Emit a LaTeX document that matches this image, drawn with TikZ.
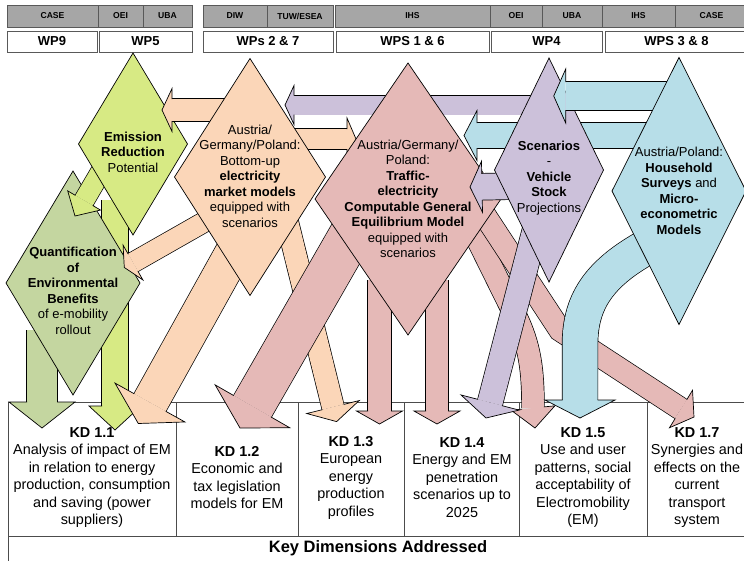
\documentclass[tikz,border=0pt]{standalone}
\usepackage{fontspec}
\setmainfont{Liberation Sans}
\usetikzlibrary{shapes.geometric,calc}

\definecolor{hdrgray}{RGB}{166,166,166}
\definecolor{emgreen}{RGB}{215,234,132}
\definecolor{qgreen}{RGB}{196,214,160}
\definecolor{peach}{RGB}{251,214,184}
\definecolor{rose}{RGB}{229,185,183}
\definecolor{lilac}{RGB}{204,193,218}
\definecolor{skyb}{RGB}{183,222,232}

% head of a block arrow: colour, base, tip, half shaft, half head
\newcommand{\headtip}[5]{%
  \fill[#1] ($(#2)!#5!90:(#3)$) -- (#3) -- ($(#2)!#5!-90:(#3)$) -- cycle;
  \draw[edge] ($(#2)!#4!90:(#3)$) -- ($(#2)!#5!90:(#3)$) -- (#3)
    -- ($(#2)!#5!-90:(#3)$) -- ($(#2)!#4!-90:(#3)$);}
% straight block arrow: colour, start, tip, half shaft, half head, head length
\newcommand{\flowarrow}[6]{%
  \coordinate (hb) at ($(#3)!#6!(#2)$);
  \draw[shaft, double=#1, double distance=2*#4] (#2) -- (hb);
  \headtip{#1}{hb}{#3}{#4}{#5}}

\begin{document}
\begin{tikzpicture}[x=1pt, y=-1pt, line join=miter,
    hdr/.style={draw=black!65, fill=hdrgray, inner sep=0pt, minimum height=22pt,
      font=\bfseries\fontsize{8.6}{10}\selectfont},
    wp/.style={draw=black!65, fill=white, inner sep=0pt, minimum height=21pt,
      font=\bfseries\fontsize{13}{15}\selectfont},
    kdbox/.style={draw=black!70, line width=1pt, fill=white, inner sep=0pt,
      minimum height=134pt},
    kdtxt/.style={align=center, inner sep=0pt, font=\fontsize{14.4}{17.5}\selectfont},
    dia/.style={diamond, draw, line width=0.7pt, inner sep=0pt, outer sep=0pt},
    dtxt/.style={align=center, inner sep=0pt, font=\fontsize{13}{15.5}\selectfont},
    shaft/.style={line width=0.7pt, line cap=butt},
    edge/.style={line width=0.7pt}]
  \useasboundingbox (0,0) rectangle (744,560);

  % partners and work packages
  \node[hdr, minimum width=91pt] (h1) at (52.5,16) {CASE};
  \node[hdr, minimum width=45pt] (h2) at (120.5,16) {OEI};
  \node[hdr, minimum width=49pt] (h3) at (167.5,16) {UBA};
  \node[hdr, minimum width=64pt] (h4) at (235,16) {DIW};
  \node[hdr, minimum width=66pt] (h5) at (300,16) {TUW/ESEA};
  \node[hdr, minimum width=155pt] (h6) at (412.5,16) {IHS};
  \node[hdr, minimum width=52pt] (h7) at (516,16) {OEI};
  \node[hdr, minimum width=60pt] (h8) at (572,16) {UBA};
  \node[hdr, minimum width=73pt] (h9) at (638.5,16) {IHS};
  \node[hdr, minimum width=73pt] (h10) at (711.5,16) {CASE};
  \node[wp, minimum width=90pt] (w1) at (52,41.5) {WP9};
  \node[wp, minimum width=93pt] (w2) at (145.5,41.5) {WP5};
  \node[wp, minimum width=130pt] (w3) at (268,41.5) {WPs 2 \& 7};
  \node[wp, minimum width=153pt] (w4) at (412.5,41.5) {WPS 1 \& 6};
  \node[wp, minimum width=111pt] (w5) at (546.5,41.5) {WP4};
  \node[wp, minimum width=143pt] (w6) at (676.5,41.5) {WPS 3 \& 8};

  % key dimensions
  \node[kdbox, minimum width=168pt] (kd1) at (92,469) {};
  \node[kdbox, minimum width=122pt] (kd2) at (237,469) {};
  \node[kdbox, minimum width=106pt] (kd3) at (351,469) {};
  \node[kdbox, minimum width=115pt] (kd4) at (461.5,469) {};
  \node[kdbox, minimum width=128pt] (kd5) at (583,469) {};
  \node[kdbox, minimum width=101pt] (kd7) at (697.5,469) {};
  \node[kdbox, minimum width=740pt, minimum height=28pt] (key) at (378,550) {};
  \node[font=\bfseries\fontsize{16.5}{18}\selectfont] (keyt) at (378,548) {Key Dimensions Addressed};

  % long arrows down to the key dimensions
  \coordinate (l1s) at (468,220);
  \coordinate (l1b) at (533,408);
  \coordinate (l1t) at (535,428);
  \draw[shaft, double=rose, double distance=22pt] (l1s) -- (515,315)
    .. controls (530,345) and (533,370) .. (l1b);
  \headtip{rose}{l1b}{l1t}{11pt}{22pt}
  \coordinate (l2s) at (478,205);
  \coordinate (l2b) at (681,409);
  \coordinate (l2t) at (694,417);
  \draw[shaft, double=rose, double distance=22pt] (l2s) -- (560,330) -- (l2b);
  \headtip{rose}{l2b}{l2t}{11pt}{22pt}
  \coordinate (is) at (285,213);
  \coordinate (it) at (336.6,421.6);
  \flowarrow{peach}{is}{it}{11pt}{27pt}{15pt}
  \coordinate (js) at (352,233);
  \coordinate (jt) at (240,428);
  \flowarrow{rose}{js}{jt}{21.5pt}{43pt}{25pt}
  \coordinate (v1s) at (379.5,280);
  \coordinate (v1t) at (379.5,424);
  \flowarrow{rose}{v1s}{v1t}{11.5pt}{23pt}{13pt}
  \coordinate (v2s) at (437,280);
  \coordinate (v2t) at (437,424);
  \flowarrow{rose}{v2s}{v2t}{11pt}{23pt}{13pt}
  \coordinate (ols) at (42,330);
  \coordinate (olt) at (42,428);
  \flowarrow{qgreen}{ols}{olt}{15pt}{33pt}{26pt}
  \coordinate (gs) at (115,200);
  \coordinate (gt) at (115,430);
  \flowarrow{emgreen}{gs}{gt}{13pt}{26pt}{24pt}
  \coordinate (hs) at (247,228);
  \coordinate (ht) at (138.3,423.5);
  \flowarrow{peach}{hs}{ht}{18pt}{40pt}{24pt}
  \coordinate (ms) at (535,230);
  \coordinate (mt) at (486,418);
  \flowarrow{lilac}{ms}{mt}{12.5pt}{30pt}{16pt}
  \coordinate (ns) at (660,240);
  \coordinate (nb) at (580,400);
  \coordinate (nt) at (580,418);
  \draw[shaft, double=skyb, double distance=35pt] (ns)
    .. controls (600,270) and (580,300) .. (580,345) -- (nb);
  \headtip{skyb}{nb}{nt}{17.5pt}{35pt}

  \node[kdtxt] (kd1t) at (92,477.5) {\textbf{KD 1.1}\\Analysis of impact of EM\\in relation to energy\\production, consumption\\and saving (power\\suppliers)};
  \node[kdtxt] (kd2t) at (237,477.5) {\textbf{KD 1.2}\\Economic and\\tax legislation\\models for EM};
  \node[kdtxt] (kd3t) at (351,477.5) {\textbf{KD 1.3}\\European\\energy\\production\\profiles};
  \node[kdtxt] (kd4t) at (462,477.5) {\textbf{KD 1.4}\\Energy and EM\\penetration\\scenarios up to\\2025};
  \node[kdtxt] (kd5t) at (583,477.5) {\textbf{KD 1.5}\\Use and user\\patterns, social\\acceptability of\\Electromobility\\(EM)};
  \node[kdtxt] (kd7t) at (697,477.5) {\textbf{KD 1.7}\\Synergies and\\effects on the\\current\\transport\\system};

  % models
  \node[dia, fill=qgreen, minimum width=134pt, minimum height=224pt] (quant) at (73,283) {};
  \node[dtxt] (quantt) at (73,291) {\textbf{Quantification}\\\textbf{of}\\\textbf{Environmental}\\\textbf{Benefits}\\of e-mobility\\rollout};
  \coordinate (ks) at (106,163);
  \coordinate (kt) at (75,216);
  \flowarrow{emgreen}{ks}{kt}{10pt}{19pt}{18pt}
  \node[dia, fill=emgreen, minimum width=109pt, minimum height=182pt] (emis) at (133,144) {};
  \node[dtxt] (emist) at (133,152) {\textbf{Emission}\\\textbf{Reduction}\\Potential};
  \coordinate (as) at (240,110);
  \coordinate (at) at (162,110);
  \flowarrow{peach}{as}{at}{11pt}{21.5pt}{10pt}
  \coordinate (gqs) at (220,213);
  \coordinate (gqt) at (124.3,267.5);
  \flowarrow{peach}{gqs}{gqt}{10pt}{20pt}{10pt}
  \coordinate (cs) at (240,139);
  \coordinate (ct) at (356,139);
  \flowarrow{peach}{cs}{ct}{10pt}{21pt}{9pt}
  \node[dia, fill=peach, minimum width=151pt, minimum height=237pt] (elec) at (250,177) {};
  \node[dtxt] (elect) at (250,176) {Austria/\\Germany/Poland:\\Bottom-up\\\textbf{electricity}\\\textbf{market models}\\equipped with\\scenarios};
  \coordinate (bs) at (540,105);
  \coordinate (bt) at (285,105);
  \flowarrow{lilac}{bs}{bt}{9.5pt}{19.5pt}{9pt}
  \node[dia, fill=rose, minimum width=186pt, minimum height=272pt] (cge) at (408,199) {};
  \node[dtxt] (cget) at (408,199) {Austria/Germany/\\Poland:\\\textbf{Traffic-}\\\textbf{electricity}\\\textbf{Computable General}\\\textbf{Equilibrium Model}\\equipped with\\scenarios};
  \coordinate (es) at (655,135.5);
  \coordinate (et) at (464,135.5);
  \flowarrow{skyb}{es}{et}{12.5pt}{25pt}{13pt}
  \coordinate (fs) at (520,186);
  \coordinate (ft) at (470,187);
  \flowarrow{lilac}{fs}{ft}{13pt}{25.5pt}{12pt}
  \node[dia, fill=lilac, minimum width=109pt, minimum height=224pt] (veh) at (549,170) {};
  \node[dtxt] (veht) at (549,178) {\textbf{Scenarios}\\-\\\textbf{Vehicle}\\\textbf{Stock}\\Projections};
  \coordinate (ds) at (675,96);
  \coordinate (dt) at (553.7,96);
  \flowarrow{skyb}{ds}{dt}{14pt}{27pt}{12pt}
  \node[dia, fill=skyb, minimum width=134pt, minimum height=267pt] (hh) at (679,191) {};
  \node[dtxt] (hht) at (679,191) {Austria/Poland:\\\textbf{Household}\\\textbf{Surveys} and\\\textbf{Micro-}\\\textbf{econometric}\\\textbf{Models}};
\end{tikzpicture}
\end{document}
